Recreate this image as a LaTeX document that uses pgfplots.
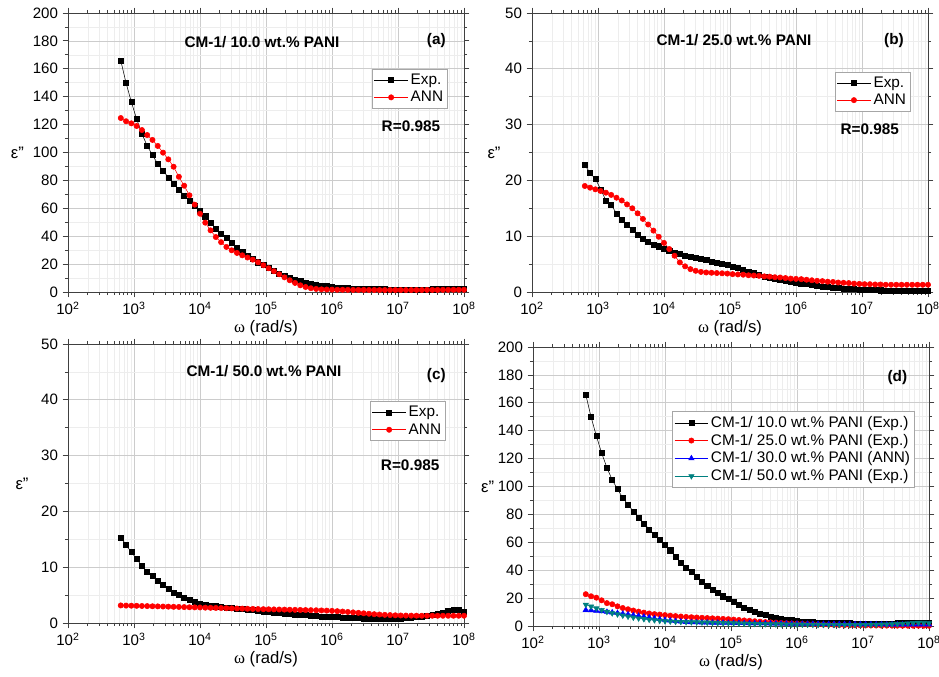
\documentclass[border=0pt]{standalone}
\usepackage{fontspec}
\setmainfont{Liberation Sans}
\newfontfamily\symfont{Liberation Serif}
\usepackage{pgfplots}
\pgfplotsset{compat=1.18}
\usepackage{pgfplotstable}

\definecolor{dcyan}{RGB}{0,128,128}

% omega (rad/s) and the curves of the four panels
\pgfplotstableread{
w       aexp  aann  bexp bann cexp cann dann
6.310e2 165.8 124.7 22.8 19.0 15.3 3.15 11.5
7.586e2 149.8 122.4 21.3 18.7 14.0 3.12 11.2
9.120e2 136.2 120.9 20.3 18.4 12.7 3.10 10.9
1.096e3 124.0 119.0 18.4 18.1 11.5 3.08 10.5
1.318e3 113.5 116.1 16.4 17.8 10.2 3.05 10.1
1.585e3 104.7 112.5 15.6 17.4 9.2 3.03 9.7
1.905e3 98.2 109.0 14.1 16.9 8.4 3.00 9.3
2.291e3 91.8 104.7 12.9 16.4 7.5 2.98 8.8
2.754e3 87.0 99.9 12.0 15.7 6.8 2.95 8.3
3.311e3 82.2 95.1 11.1 15.0 6.1 2.93 7.8
3.981e3 77.9 89.8 10.3 14.1 5.5 2.90 7.3
4.786e3 73.6 82.6 9.6 13.1 5.0 2.88 6.7
5.754e3 69.3 76.2 9.0 12.1 4.6 2.85 6.1
6.918e3 65.5 69.3 8.5 11.0 4.2 2.82 5.5
8.318e3 62.0 62.6 8.2 9.9 3.8 2.80 4.9
1.000e4 58.5 56.1 7.8 8.8 3.5 2.78 4.4
1.202e4 54.3 49.7 7.4 7.7 3.3 2.75 3.9
1.445e4 49.8 44.2 7.1 6.5 3.1 2.72 3.5
1.738e4 45.6 39.4 6.8 5.3 3.0 2.70 3.2
2.089e4 42.0 35.7 6.5 4.6 2.9 2.68 2.9
2.512e4 38.6 32.3 6.3 4.1 2.8 2.65 2.7
3.020e4 35.0 29.9 6.1 3.8 2.7 2.62 2.6
3.631e4 31.6 28.0 5.9 3.6 2.6 2.60 2.5
4.365e4 28.6 26.3 5.7 3.5 2.5 2.58 2.4
5.248e4 26.0 24.7 5.5 3.45 2.4 2.55 2.35
6.310e4 23.6 23.2 5.3 3.4 2.3 2.53 2.3
7.586e4 21.3 21.3 5.1 3.35 2.2 2.50 2.25
9.120e4 19.2 19.2 4.9 3.3 2.1 2.48 2.2
1.096e5 17.1 17.0 4.6 3.2 2.0 2.46 2.15
1.318e5 15.2 14.9 4.3 3.15 1.9 2.44 2.1
1.585e5 13.4 12.7 4.0 3.1 1.8 2.42 2.05
1.905e5 11.7 10.5 3.7 3.0 1.7 2.40 2.0
2.291e5 10.2 8.4 3.4 2.95 1.6 2.38 1.95
2.754e5 8.9 6.5 3.1 2.9 1.5 2.36 1.9
3.311e5 7.8 4.8 2.8 2.8 1.45 2.34 1.85
3.981e5 6.8 3.6 2.6 2.75 1.4 2.32 1.8
4.786e5 5.9 2.7 2.4 2.65 1.3 2.30 1.75
5.754e5 5.2 2.2 2.2 2.6 1.25 2.28 1.7
6.918e5 4.6 1.9 2.0 2.5 1.2 2.25 1.65
8.318e5 4.1 1.8 1.85 2.4 1.15 2.22 1.6
1.000e6 3.7 1.7 1.7 2.35 1.1 2.18 1.55
1.202e6 3.3 1.6 1.55 2.3 1.05 2.12 1.5
1.445e6 3.0 1.6 1.4 2.2 1.0 2.05 1.5
1.738e6 2.8 1.55 1.25 2.1 0.95 1.98 1.45
2.089e6 2.6 1.5 1.1 2.0 0.9 1.90 1.45
2.512e6 2.4 1.5 1.0 1.95 0.9 1.82 1.4
3.020e6 2.3 1.5 0.9 1.85 0.85 1.74 1.4
3.631e6 2.2 1.45 0.8 1.8 0.85 1.66 1.35
4.365e6 2.1 1.45 0.7 1.7 0.8 1.58 1.35
5.248e6 2.0 1.4 0.62 1.65 0.8 1.52 1.3
6.310e6 1.95 1.4 0.55 1.6 0.8 1.46 1.3
7.586e6 1.9 1.4 0.5 1.5 0.8 1.42 1.25
9.120e6 1.85 1.4 0.45 1.45 0.8 1.38 1.25
1.096e7 1.8 1.4 0.4 1.4 0.85 1.35 1.2
1.318e7 1.8 1.4 0.37 1.4 0.9 1.33 1.2
1.585e7 1.8 1.4 0.34 1.35 0.95 1.32 1.15
1.905e7 1.8 1.45 0.31 1.35 1.05 1.31 1.15
2.291e7 1.85 1.45 0.29 1.3 1.15 1.30 1.1
2.754e7 1.9 1.5 0.27 1.3 1.3 1.30 1.1
3.311e7 1.95 1.5 0.25 1.3 1.45 1.30 1.05
3.981e7 2.0 1.5 0.23 1.3 1.65 1.30 1.05
4.786e7 2.1 1.55 0.22 1.3 1.9 1.30 1.0
5.754e7 2.2 1.55 0.21 1.3 2.15 1.30 1.0
6.918e7 2.3 1.6 0.2 1.3 2.35 1.30 1.0
8.318e7 2.3 1.6 0.2 1.3 2.3 1.30 1.0
1.000e8 2.2 1.6 0.2 1.3 2.05 1.30 1.0
}\eps

\pgfplotsset{
  legend image code/.code={
    \draw[mark repeat=2, mark phase=2, #1] plot coordinates {(0pt,0pt) (12.5pt,0pt) (25pt,0pt)};},
  every axis/.append style={
    scale only axis, width=297pt, height=209.25pt,
    minor y tick num=1,
    grid=both,
    major grid style={gray!40, line width=0.5pt},
    minor grid style={gray!14, line width=0.4pt},
    axis line style={black!75, line width=0.7pt},
    tick align=outside, major tick length=4pt, minor tick length=2.3pt,
    tick style={black!75, line width=0.6pt},
    ticklabel style={font=\fontsize{11.3}{13}\selectfont},
    /pgf/number format/assume math mode=true,
    label style={font=\fontsize{12.5}{14}\selectfont},
    legend cell align=left,
    legend style={draw=gray!70, line width=0.6pt, fill=white, anchor=north east,
      font=\fontsize{11.5}{13.5}\selectfont, inner sep=1.5pt, row sep=-0.5pt},
  },
  every axis x label/.style={at={(rel axis cs:0.5,0)}, anchor=center, yshift=-27pt},
  every axis y label/.style={at={(rel axis cs:0,0.5)}, anchor=center},
  expser/.style={black, line width=0.4pt, mark=square*, mark size=1.9pt, mark options={solid}},
  annser/.style={red, line width=0.4pt, mark=*, mark size=2pt, mark options={solid}},
  triup/.style={blue, line width=0.4pt, mark=triangle*, mark size=2.3pt, mark options={solid}},
  tridn/.style={dcyan, line width=0.4pt, mark=triangle*, mark size=2.3pt, mark options={solid, rotate=180}},
}
\tikzset{ttl/.style={font=\fontsize{11.5}{13}\selectfont\bfseries}}

\newcommand\wticks{10\textsuperscript{2},10\textsuperscript{3},10\textsuperscript{4},10\textsuperscript{5},10\textsuperscript{6},10\textsuperscript{7},10\textsuperscript{8}}
\newcommand\epsl{ε\symbol{"22}}

\begin{document}
\begin{tikzpicture}
\path[use as bounding box] (0,0) rectangle (704.25pt,-507.75pt);

% (a)
\begin{axis}[anchor=south west, at={(51pt,-219pt)},
  xmode=log, xmin=1e2, xmax=1e8, ymin=0, ymax=200, ytick={0,20,...,200},
  xtick={1e2,1e3,1e4,1e5,1e6,1e7,1e8}, xticklabels/.expand once=\wticks,
  xlabel={{\symfont ω} (rad/s)}, ylabel={\epsl}, ylabel style={xshift=-38pt},
  clip=false, legend style={at={(0.96,0.80)}}]
\addplot[expser] table[x=w, y=aexp] {\eps};
\addplot[annser] table[x=w, y=aann] {\eps};
\legend{Exp., ANN}
\node[ttl] at (rel axis cs:0.49,0.896) {CM-1/ 10.0 wt.\% PANI};
\node[ttl] at (rel axis cs:0.93,0.903) {(a)};
\node[ttl] at (rel axis cs:0.866,0.595) {R=0.985};
\end{axis}

% (b)
\begin{axis}[anchor=south west, at={(399pt,-219pt)},
  xmode=log, xmin=1e2, xmax=1e8, ymin=0, ymax=50, ytick={0,10,...,50},
  xtick={1e2,1e3,1e4,1e5,1e6,1e7,1e8}, xticklabels/.expand once=\wticks,
  xlabel={{\symfont ω} (rad/s)}, ylabel={\epsl}, ylabel style={xshift=-28.5pt},
  clip=false, legend style={at={(0.957,0.79)}}]
\addplot[expser] table[x=w, y=bexp] {\eps};
\addplot[annser] table[x=w, y=bann] {\eps};
\legend{Exp., ANN}
\node[ttl] at (rel axis cs:0.51,0.903) {CM-1/ 25.0 wt.\% PANI};
\node[ttl] at (rel axis cs:0.914,0.903) {(b)};
\node[ttl] at (rel axis cs:0.853,0.584) {R=0.985};
\end{axis}

% (c)
\begin{axis}[anchor=south west, at={(51pt,-467.25pt)},
  xmode=log, xmin=1e2, xmax=1e8, ymin=0, ymax=50, ytick={0,10,...,50},
  xtick={1e2,1e3,1e4,1e5,1e6,1e7,1e8}, xticklabels/.expand once=\wticks,
  xlabel={{\symfont ω} (rad/s)}, ylabel={\epsl}, ylabel style={xshift=-34.5pt},
  clip=false, legend style={at={(0.955,0.795)}}]
\addplot[expser] table[x=w, y=cexp] {\eps};
\addplot[annser] table[x=w, y=cann] {\eps};
\legend{Exp., ANN}
\node[ttl] at (rel axis cs:0.495,0.903) {CM-1/ 50.0 wt.\% PANI};
\node[ttl] at (rel axis cs:0.93,0.888) {(c)};
\node[ttl] at (rel axis cs:0.864,0.565) {R=0.985};
\end{axis}

% (d)
\begin{axis}[anchor=south west, at={(399.75pt,-469.5pt)},
  xmode=log, xmin=1e2, xmax=1e8, ymin=0, ymax=200, ytick={0,20,...,200},
  xtick={1e2,1e3,1e4,1e5,1e6,1e7,1e8}, xticklabels/.expand once=\wticks,
  xlabel={{\symfont ω} (rad/s)}, ylabel={\epsl}, ylabel style={xshift=-34pt},
  clip=false, legend style={at={(0.965,0.77)}}]
\addplot[expser] table[x=w, y=aexp] {\eps};
\addplot[annser] table[x=w, y=bexp] {\eps};
\addplot[triup] table[x=w, y=dann] {\eps};
\addplot[tridn] table[x=w, y=cexp] {\eps};
\legend{CM-1/ 10.0 wt.\% PANI (Exp.), CM-1/ 25.0 wt.\% PANI (Exp.),
  CM-1/ 30.0 wt.\% PANI (ANN), CM-1/ 50.0 wt.\% PANI (Exp.)}
\node[ttl] at (rel axis cs:0.92,0.89) {(d)};
\end{axis}
\end{tikzpicture}
\end{document}
